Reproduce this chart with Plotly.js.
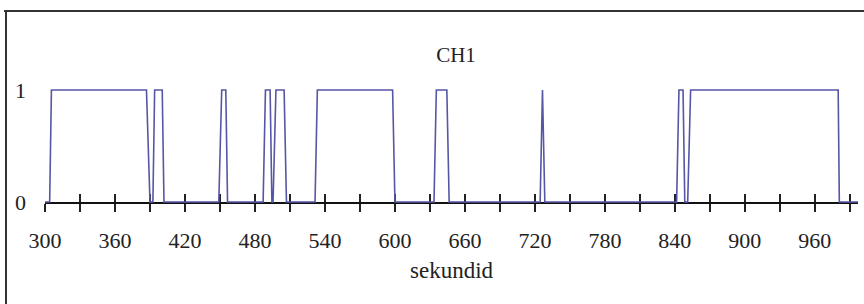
<!DOCTYPE html>
<html>
<head>
<meta charset="utf-8">
<script src="https://cdn.plot.ly/plotly-3.0.1.min.js"></script>
<style>
html,body{margin:0;padding:0;background:#fff;}
#chart{width:864px;height:304px;}
</style>
</head>
<body>
<div id="chart"></div>
<script>
// Signal CH1: time (s) of each vertex and its state (0/1)
const times = [300, 304, 305.5, 387, 390, 392.5, 394, 400.5, 402, 449, 451.5, 455, 456.5,
  487, 489, 493, 494.5, 495.5, 498, 505, 507, 531.5, 533.5, 598, 600, 633.5, 635.5,
  644.5, 646.5, 724.5, 726.5, 728.5, 841.5, 843.5, 847, 848.5, 851, 853.5, 980, 981, 997];
const states = [0, 0, 1, 1, 0, 0, 1, 1, 0, 0, 1, 1, 0,
  0, 1, 1, 0, 0, 1, 1, 0, 0, 1, 1, 0, 0, 1,
  1, 0, 0, 1, 0, 0, 1, 1, 0, 0, 1, 1, 0, 0];

// Axis ticks
const xTickVals = [300, 330, 360, 390, 420, 450, 480, 510, 540, 570, 600, 630, 660, 690,
  720, 750, 780, 810, 840, 870, 900, 930, 960, 990];
const xTickText = ['300', '', '360', '', '420', '', '480', '', '540', '', '600', '', '660', '',
  '720', '', '780', '', '840', '', '900', '', '960', ''];
const yTickVals = [0, 1];
const yTickText = ['0', '1'];

const chartTitle = 'CH1';
const xTitle = 'sekundid';

const W = 864, H = 304, L = 45, R = 6, T = 68, B = 80;
const pw = W - L - R, ph = H - T - B;
const px = v => (v - L) / pw;
const py = v => (H - B - v) / ph;

const font = {family: '"Liberation Serif", "Times New Roman", serif', size: 22, color: '#222'};
const xRange = [300, 997];
const yRange = [-0.19643, 1.19643];
const axisPos = 22 / ph;

const trace = {
  x: times, y: states, type: 'scatter', mode: 'lines',
  line: {color: '#5656a6', width: 1.6},
  hoverinfo: 'skip', showlegend: false
};

const layout = {
  width: W, height: H,
  margin: {l: L, r: R, t: T, b: B, pad: 0},
  paper_bgcolor: '#fff', plot_bgcolor: '#fff',
  font: font,
  showlegend: false,
  title: {text: chartTitle, font: {family: font.family, size: 21, color: '#222'},
    x: 456 / W, xref: 'container', xanchor: 'center', y: 1 - 55 / H, yref: 'container', yanchor: 'middle'},
  xaxis: {
    range: xRange, anchor: 'free', position: axisPos,
    showgrid: false, zeroline: false,
    showline: true, linecolor: '#111', linewidth: 1.5, layer: 'below traces',
    tickmode: 'array', tickvals: xTickVals, ticktext: xTickText,
    ticks: 'outside', ticklen: 8, tickwidth: 2, tickcolor: '#222',
    ticklabelstandoff: 10,
    tickfont: font,
    title: {text: xTitle, font: {family: font.family, size: 23, color: '#222'}, standoff: 10}
  },
  xaxis2: {
    range: xRange, overlaying: 'x', anchor: 'free', position: axisPos, matches: 'x',
    showgrid: false, zeroline: false, showline: false, showticklabels: false,
    tickmode: 'array', tickvals: xTickVals,
    ticks: 'inside', ticklen: 8, tickwidth: 2, tickcolor: '#222', layer: 'below traces'
  },
  yaxis: {
    range: yRange, showgrid: false, zeroline: false, showline: false,
    tickmode: 'array', tickvals: yTickVals, ticktext: yTickText,
    ticks: '', ticklabelstandoff: 18, tickfont: font
  },
  shapes: [
    {type: 'line', xref: 'paper', yref: 'paper', x0: px(4), x1: px(864), y0: py(11), y1: py(11),
      line: {color: '#333', width: 2}},
    {type: 'line', xref: 'paper', yref: 'paper', x0: px(6), x1: px(6), y0: py(11), y1: py(304),
      line: {color: '#333', width: 2}}
  ]
};

Plotly.newPlot('chart', [trace, {x: [300], y: [0], xaxis: 'x2', type: 'scatter', mode: 'none', hoverinfo: 'skip', showlegend: false}], layout, {staticPlot: true, displayModeBar: false});
</script>
</body>
</html>
